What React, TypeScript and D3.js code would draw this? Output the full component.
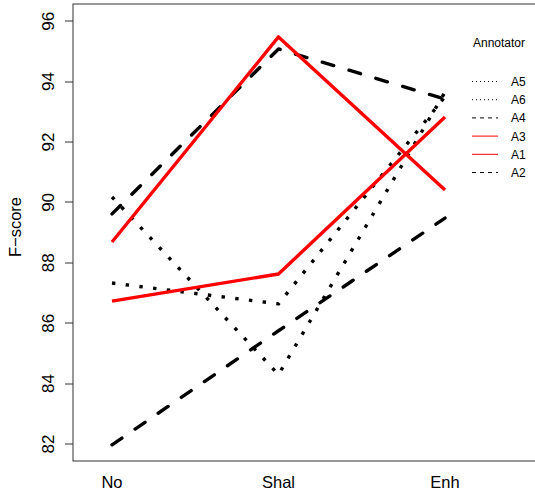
import React from "react";
import * as d3 from "d3";

const categories = ["No", "Shal", "Enh"];
const annotators = ["A5", "A6", "A4", "A3", "A1", "A2"];
const seriesA5 = [90.18, 84.3, 93.65];
const seriesA6 = [87.33, 86.64, 93.5];
const seriesA4 = [89.62, 95.08, 93.42];
const seriesA3 = [86.73, 87.63, 92.83];
const seriesA1 = [88.69, 95.48, 90.41];
const seriesA2 = [81.97, 85.75, 89.48];
const yTicks = [82, 84, 86, 88, 90, 92, 94, 96];
const styles = ["dotted", "dotted", "dashed", "solid", "solid", "dashed"];
const colors = ["#000", "#000", "#000", "red", "red", "#000"];

const W = 535;
const H = 495;
const font = "'Liberation Sans', Arial, Helvetica, sans-serif";

export default function App() {
  const values = [seriesA5, seriesA6, seriesA4, seriesA3, seriesA1, seriesA2];
  const x = d3.scalePoint<string>().domain(categories).range([112, 445]);
  const y = d3.scaleLinear().domain([82, 96]).range([444, 21.2]);
  const line = d3
    .line<number>()
    .x((_, i) => x(categories[i]) as number)
    .y((d) => y(d));

  const plotDash = (s: string) =>
    s === "dotted" ? "3.4,10.4" : s === "dashed" ? "12,16" : undefined;
  const legDash = (s: string) =>
    s === "dotted" ? "1,3" : s === "dashed" ? "4,4" : undefined;

  const legY = (i: number) => 81.5 + i * 18.2;

  return (
    <svg
      width={W}
      height={H}
      style={{ position: "absolute", left: 0, top: 0, background: "#fff" }}
      fontFamily={font}
    >
      <rect x={73} y={4} width={600} height={457} fill="none" stroke="#333" strokeWidth={1} />
      {yTicks.map((t) => (
        <g key={t}>
          <line x1={65} x2={73} y1={Math.round(y(t))} y2={Math.round(y(t))} stroke="#333" />
          <text
            transform={`translate(53.5,${y(t)}) rotate(-90)`}
            textAnchor="middle"
            fontSize={17}
            fill="#000"
          >
            {t}
          </text>
        </g>
      ))}
      <text
        transform={`translate(21,227) rotate(-90)`}
        textAnchor="middle"
        fontSize={16.5}
        fill="#000"
      >
        F−score
      </text>
      {categories.map((c) => (
        <text key={c} x={x(c)} y={488} textAnchor="middle" fontSize={16.5} fill="#000">
          {c}
        </text>
      ))}
      {values.map((v, i) => (
        <path
          key={annotators[i]}
          d={line(v) || ""}
          fill="none"
          stroke={colors[i]}
          strokeWidth={3.4}
          strokeDasharray={plotDash(styles[i])}
          strokeLinecap={styles[i] === "dashed" ? "round" : "butt"}
          strokeLinejoin="round"
        />
      ))}
      <text x={473} y={47} fontSize={12} fill="#000">
        Annotator
      </text>
      {annotators.map((a, i) => (
        <g key={a}>
          <line
            x1={472}
            x2={498}
            y1={legY(i)}
            y2={legY(i)}
            stroke={colors[i]}
            strokeWidth={1}
            strokeDasharray={legDash(styles[i])}
          />
          <text x={511} y={legY(i) + 4.5} fontSize={12} fill="#000">
            {a}
          </text>
        </g>
      ))}
    </svg>
  );
}
